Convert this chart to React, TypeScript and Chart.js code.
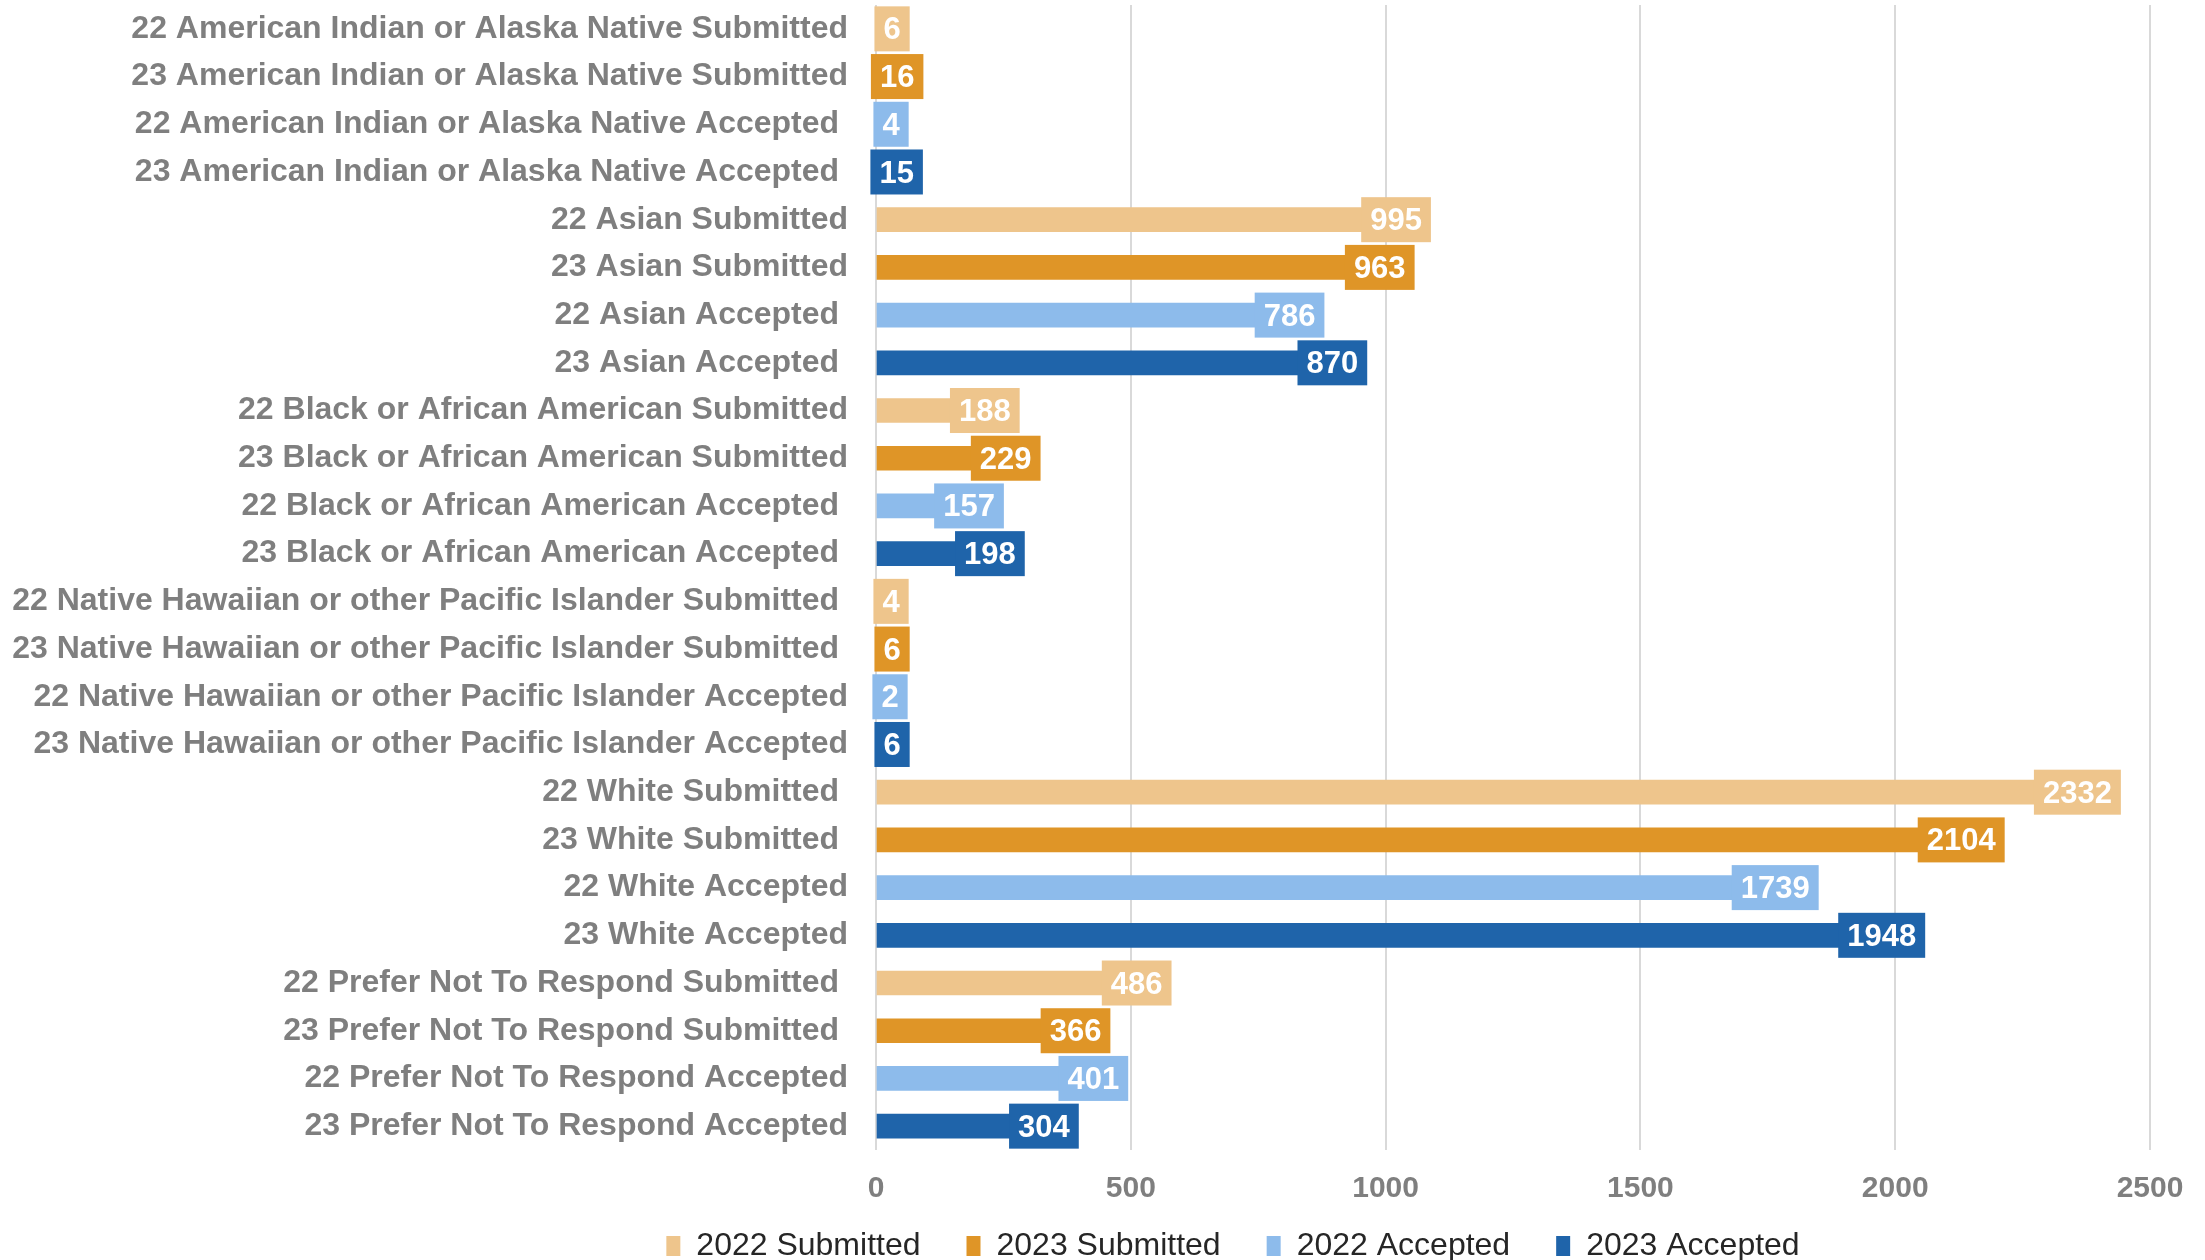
import React, { useEffect, useRef } from "react";
import { Chart, registerables } from "chart.js";

Chart.register(...registerables);

const categories = [
  "22 American Indian or Alaska Native Submitted",
  "23 American Indian or Alaska Native Submitted",
  "22 American Indian or Alaska Native Accepted ",
  "23 American Indian or Alaska Native Accepted ",
  "22 Asian Submitted",
  "23 Asian Submitted",
  "22 Asian Accepted ",
  "23 Asian Accepted ",
  "22 Black or African American Submitted",
  "23 Black or African American Submitted",
  "22 Black or African American Accepted ",
  "23 Black or African American Accepted ",
  "22 Native Hawaiian or other Pacific Islander Submitted ",
  "23 Native Hawaiian or other Pacific Islander Submitted ",
  "22 Native Hawaiian or other Pacific Islander Accepted",
  "23 Native Hawaiian or other Pacific Islander Accepted",
  "22 White Submitted ",
  "23 White Submitted ",
  "22 White Accepted",
  "23 White Accepted",
  "22 Prefer Not To Respond Submitted ",
  "23 Prefer Not To Respond Submitted ",
  "22 Prefer Not To Respond Accepted",
  "23 Prefer Not To Respond Accepted",
];

// one value per group (AIAN, Asian, Black, NHPI, White, Prefer not)
const submitted2022 = [6, 995, 188, 4, 2332, 486];
const submitted2023 = [16, 963, 229, 6, 2104, 366];
const accepted2022 = [4, 786, 157, 2, 1739, 401];
const accepted2023 = [15, 870, 198, 6, 1948, 304];

const seriesNames = ["2022 Submitted", "2023 Submitted", "2022 Accepted", "2023 Accepted"];
const seriesColors = ["#EEC58C", "#DF9527", "#8DBBEB", "#1F64AA"];
const xTicks = [0, 500, 1000, 1500, 2000, 2500];

const FONT = "'Liberation Sans', Arial, sans-serif";

function spread(values: number[], slot: number): (number | null)[] {
  const out: (number | null)[] = categories.map(() => null);
  values.forEach((v, g) => {
    out[g * 4 + slot] = v;
  });
  return out;
}

const valueLabels = {
  id: "valueLabels",
  afterDatasetsDraw(chart: any) {
    const ctx = chart.ctx;
    ctx.save();
    ctx.font = `bold 31px ${FONT}`;
    ctx.textAlign = "center";
    ctx.textBaseline = "middle";
    chart.data.datasets.forEach((ds: any, di: number) => {
      const meta = chart.getDatasetMeta(di);
      meta.data.forEach((el: any, i: number) => {
        const v = ds.data[i];
        if (v == null) return;
        const text = String(v);
        const w = ctx.measureText(text).width + 18;
        const h = 45;
        const cx = el.x + 13;
        ctx.fillStyle = ds.backgroundColor;
        ctx.fillRect(cx - w / 2, el.y - h / 2, w, h);
        ctx.fillStyle = "#ffffff";
        ctx.fillText(text, cx, el.y + 2);
      });
    });
    ctx.restore();
  },
};

const legendShift = {
  id: "legendShift",
  afterLayout(chart: any) {
    const lg = chart.legend;
    if (!lg) return;
    lg.left += 158;
    lg.right += 158;
    lg.top -= 26;
    lg.bottom -= 26;
  },
};

export default function App() {
  const ref = useRef<HTMLCanvasElement>(null);

  useEffect(() => {
    document.body.style.margin = "0";
    const canvas = ref.current!;
    const datasets = [submitted2022, submitted2023, accepted2022, accepted2023].map((vals, k) => ({
      label: seriesNames[k],
      data: spread(vals, k),
      backgroundColor: seriesColors[k],
      borderWidth: 0,
      barThickness: 24,
    }));
    const chart = new Chart(canvas, {
      type: "bar",
      data: { labels: categories, datasets },
      plugins: [valueLabels, legendShift],
      options: {
        indexAxis: "y",
        responsive: false,
        animation: false,
        layout: { padding: { left: 0, right: 55, top: 5, bottom: -38 } },
        plugins: {
          tooltip: { enabled: false },
          legend: {
            position: "bottom",
            labels: {
              font: { family: FONT, size: 32 },
              color: "#262626",
              boxWidth: 14,
              boxHeight: 20,
              padding: 46,
            },
          },
        },
        scales: {
          x: {
            stacked: true,
            min: 0,
            max: 2500,
            afterBuildTicks: (scale: any) => {
              scale.ticks = xTicks.map((v) => ({ value: v }));
            },
            afterFit: (scale: any) => {
              scale.height = 60;
            },
            grid: { color: "#D9D9D9", lineWidth: 2, drawTicks: false },
            border: { display: false },
            ticks: {
              padding: 21,
              color: "#7F7F7F",
              font: { family: FONT, size: 30, weight: "bold" },
              callback: (v: any) => String(v),
            },
          },
          y: {
            stacked: true,
            afterFit: (scale: any) => {
              scale.width = 876;
              scale.paddingTop = 0;
              scale.paddingBottom = 0;
            },
            grid: { display: false, drawTicks: false },
            border: { display: false },
            ticks: {
              autoSkip: false,
              padding: 28,
              color: "#7F7F7F",
              font: { family: FONT, size: 32, weight: "bold" },
            },
          },
        },
      },
    });
    return () => chart.destroy();
  }, []);

  return (
    <div style={{ width: 2205, height: 1260 }}>
      <canvas ref={ref} width={2205} height={1260} style={{ display: "block" }} />
    </div>
  );
}
